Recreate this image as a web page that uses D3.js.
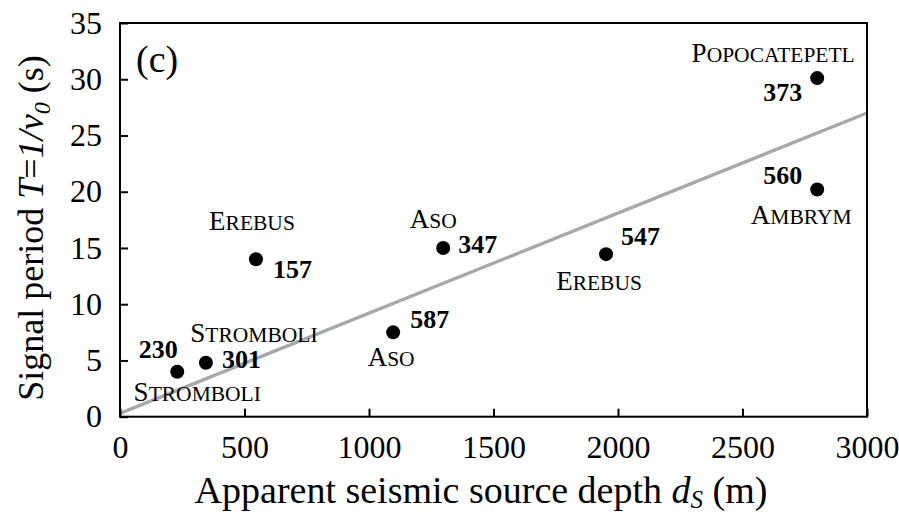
<!DOCTYPE html>
<html>
<head>
<meta charset="utf-8">
<script src="https://cdn.jsdelivr.net/npm/d3@7"></script>
<style>
  html, body { margin: 0; padding: 0; background: #fff; }
  svg { display: block; }
  text { font-family: "Liberation Serif", "Times New Roman", serif; fill: #000; }
</style>
</head>
<body>
<svg id="chart" width="899" height="516"></svg>
<script>
// ---- Data ----
const depths   = [230, 345, 546, 1298, 1097, 1952, 2800, 2800];     // apparent source depth d_s (m)
const periods  = [4.0, 4.8, 14.0, 15.0, 7.5, 14.45, 30.1, 20.2];   // signal period T (s)
const eventIds = ["230", "301", "157", "347", "587", "547", "373", "560"];
const volcanoes = ["Stromboli", "Stromboli", "Erebus", "Aso", "Aso", "Erebus", "Popocatepetl", "Ambrym"];
const fitDepths  = [0, 3000];
const fitPeriods = [0.3, 27.0];
const xTicks = [0, 500, 1000, 1500, 2000, 2500, 3000];
const yTicks = [0, 5, 10, 15, 20, 25, 30, 35];

// ---- Label layout (pixel offsets relative to each point, style only) ----
const numLayout = [
  {dx: -19, dy: -14, anchor: "middle"},
  {dx: 16,  dy: 5,   anchor: "start"},
  {dx: 17,  dy: 19,  anchor: "start"},
  {dx: 15,  dy: 5,   anchor: "start"},
  {dx: 17,  dy: -4,  anchor: "start"},
  {dx: 15,  dy: -9,  anchor: "start"},
  {dx: -15, dy: 23,  anchor: "end"},
  {dx: -15, dy: -5,  anchor: "end"}
];
const nameLayout = [
  {dx: 20,  dy: 29},
  {dx: 48,  dy: -21},
  {dx: -4,  dy: -29},
  {dx: -10, dy: -20},
  {dx: -2,  dy: 34},
  {dx: -7,  dy: 36},
  {dx: -44, dy: -16},
  {dx: -16, dy: 35}
];

const svg = d3.select("#chart");
const mLeft = 120, mRight = 867, mTop = 23, mBottom = 416.7;

const x = d3.scaleLinear().domain([0, 3000]).range([mLeft, mRight]);
const y = d3.scaleLinear().domain([0, 35]).range([mBottom, mTop]);

// Fit line
svg.append("line")
  .attr("x1", x(fitDepths[0])).attr("y1", y(fitPeriods[0]))
  .attr("x2", x(fitDepths[1])).attr("y2", y(fitPeriods[1]))
  .attr("stroke", "#a5a8ac").attr("stroke-width", 3.4);

// Axes
const xAxis = d3.axisBottom(x).tickValues(xTicks).tickFormat(d3.format("d"))
  .tickSizeInner(-8).tickSizeOuter(0).tickPadding(18.5);
const yAxis = d3.axisLeft(y).tickValues(yTicks).tickFormat(d3.format("d"))
  .tickSizeInner(-8).tickSizeOuter(0).tickPadding(18);

const gx = svg.append("g").attr("transform", `translate(0,${mBottom})`).call(xAxis);
const gy = svg.append("g").attr("transform", `translate(${mLeft},0)`).call(yAxis);
[gx, gy].forEach(g => {
  g.attr("font-family", "Liberation Serif, Times New Roman, serif");
  g.select(".domain").remove();
  g.selectAll(".tick line").attr("stroke", "#000").attr("stroke-width", 2);
  g.selectAll(".tick text").attr("font-size", 32).attr("fill", "#000");
});

// Frame
svg.append("rect")
  .attr("x", mLeft).attr("y", mTop)
  .attr("width", mRight - mLeft).attr("height", mBottom - mTop)
  .attr("fill", "none").attr("stroke", "#000").attr("stroke-width", 2);

// Points
const pts = depths.map((d, i) => ({d, t: periods[i], id: eventIds[i], name: volcanoes[i], i}));
svg.append("g").selectAll("circle").data(pts).join("circle")
  .attr("cx", p => x(p.d)).attr("cy", p => y(p.t)).attr("r", 7).attr("fill", "#000");

// Event numbers
svg.append("g").selectAll("text").data(pts).join("text")
  .attr("x", p => x(p.d) + numLayout[p.i].dx)
  .attr("y", p => y(p.t) + numLayout[p.i].dy)
  .attr("text-anchor", p => numLayout[p.i].anchor)
  .attr("font-size", 26).attr("font-weight", "bold")
  .text(p => p.id);

// Volcano names in small caps
const names = svg.append("g").selectAll("text").data(pts).join("text")
  .attr("x", p => x(p.d) + nameLayout[p.i].dx)
  .attr("y", p => y(p.t) + nameLayout[p.i].dy)
  .attr("text-anchor", "middle");
names.append("tspan").attr("font-size", 27).text(p => p.name[0].toUpperCase());
names.append("tspan").attr("font-size", 21.5).text(p => p.name.slice(1).toUpperCase());

// Panel tag
svg.append("text").attr("x", 136).attr("y", 72).attr("font-size", 38).text("(c)");

// X axis title
const xt = svg.append("text").attr("x", 481).attr("y", 503)
  .attr("text-anchor", "middle").attr("font-size", 38);
xt.append("tspan").text("Apparent seismic source depth ");
xt.append("tspan").attr("font-style", "italic").text("d");
xt.append("tspan").attr("font-style", "italic").attr("font-size", 25).attr("dy", 5).text("S");
xt.append("tspan").attr("dy", -5).text(" (m)");

// Y axis title
const yt = svg.append("text").attr("transform", "translate(43,228) rotate(-90)")
  .attr("text-anchor", "middle").attr("font-size", 36);
yt.append("tspan").text("Signal period ");
yt.append("tspan").attr("font-style", "italic").text("T");
yt.append("tspan").text("=");
yt.append("tspan").attr("font-style", "italic").text("1/ν");
yt.append("tspan").attr("font-style", "italic").attr("font-size", 24).attr("dy", 7).text("0");
yt.append("tspan").attr("dy", -7).text(" (s)");
</script>
</body>
</html>
